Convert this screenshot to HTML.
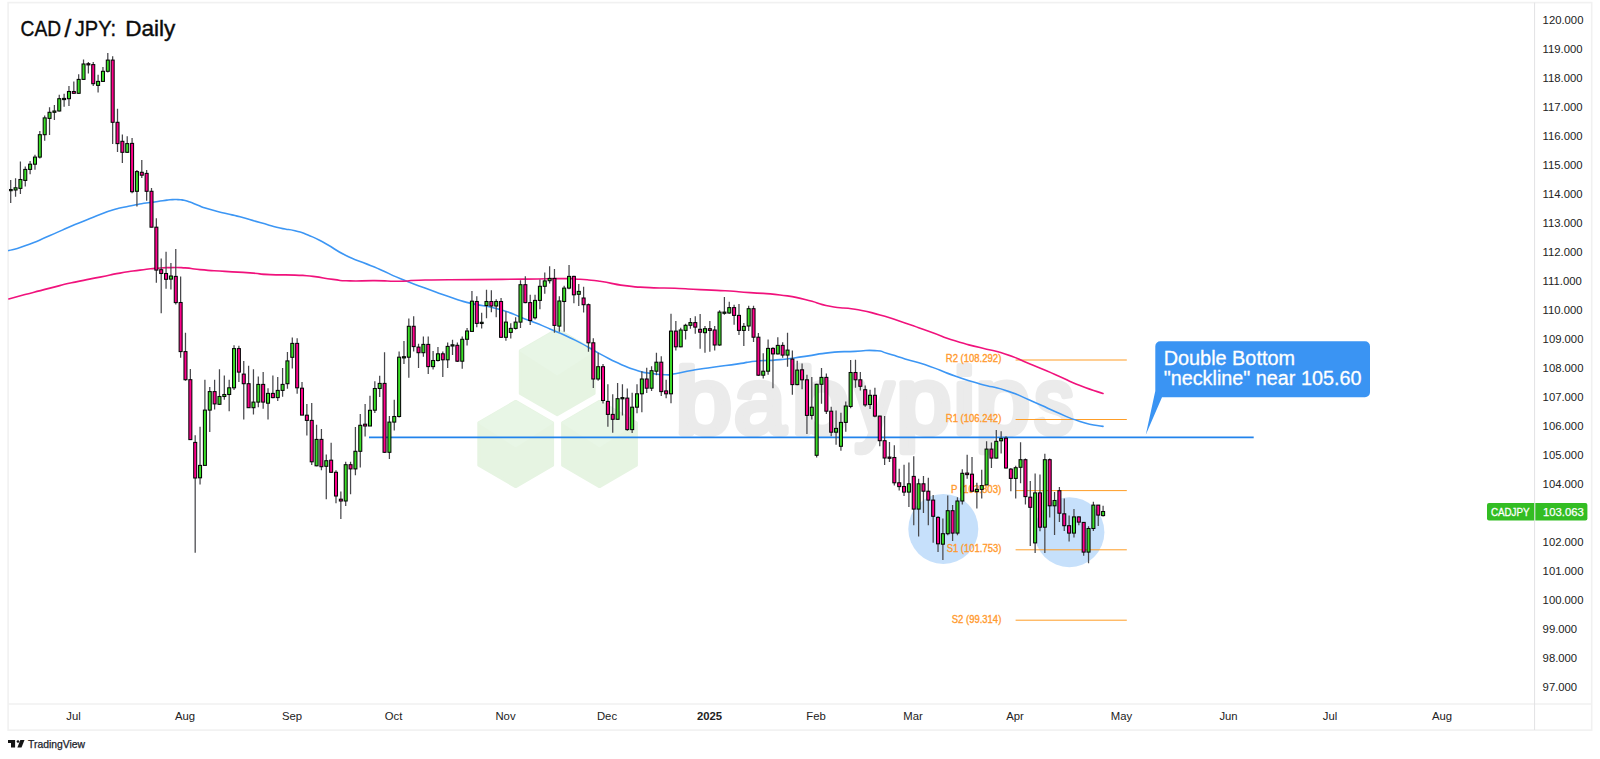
<!DOCTYPE html>
<html><head><meta charset="utf-8"><title>CAD/JPY: Daily</title>
<style>
html,body{margin:0;padding:0;background:#fff;}
body{width:1600px;height:759px;overflow:hidden;}
svg{display:block;font-family:"Liberation Sans","DejaVu Sans",sans-serif;}
</style></head><body>
<svg width="1600" height="759" viewBox="0 0 1600 759">
<rect width="1600" height="759" fill="#fff"/>

<g fill="none" stroke="#f1f1f1" stroke-width="1.6"><rect x="8.1" y="2.6" width="1583.6" height="727.5"/><line x1="8.1" y1="704" x2="1591.7" y2="704"/></g><line x1="1534.6" y1="2.6" x2="1534.6" y2="730" stroke="#e2e2e4" stroke-width="1"/>
<g id="watermark" aria-label="babypips">
<polygon points="557.2,329.6 594.1,350.9 594.1,393.5 557.2,414.8 520.3,393.5 520.3,350.9" fill="#e6f4e2" stroke="#e6f4e2" stroke-width="3" stroke-linejoin="round"/><polygon points="557.2,329.6 594.1,350.9 557.2,374.7 520.3,350.9" fill="#e8f6e6" stroke="#e8f6e6" stroke-width="1.5" stroke-linejoin="round"/>
<polygon points="515.7,401.4 552.6,422.7 552.6,465.3 515.7,486.6 478.8,465.3 478.8,422.7" fill="#e6f4e2" stroke="#e6f4e2" stroke-width="3" stroke-linejoin="round"/><polygon points="515.7,401.4 552.6,422.7 515.7,446.5 478.8,422.7" fill="#e8f6e6" stroke="#e8f6e6" stroke-width="1.5" stroke-linejoin="round"/>
<polygon points="599.5,401.4 636.4,422.7 636.4,465.3 599.5,486.6 562.6,465.3 562.6,422.7" fill="#e6f4e2" stroke="#e6f4e2" stroke-width="3" stroke-linejoin="round"/><polygon points="599.5,401.4 636.4,422.7 599.5,446.5 562.6,422.7" fill="#e8f6e6" stroke="#e8f6e6" stroke-width="1.5" stroke-linejoin="round"/>
<text transform="translate(0 433.1) scale(1 0.88)" font-size="105" fill="#ebebeb" stroke="#ebebeb" stroke-width="7.5" stroke-linejoin="round" stroke-linecap="round"><tspan x="675.83" y="0" textLength="55.85" lengthAdjust="spacingAndGlyphs">b</tspan><tspan x="734.22" y="0" textLength="51.12" lengthAdjust="spacingAndGlyphs">a</tspan><tspan x="791.97" y="0" textLength="57.02" lengthAdjust="spacingAndGlyphs">b</tspan><tspan x="854.75" y="0" textLength="38.68" lengthAdjust="spacingAndGlyphs">y</tspan><tspan x="896.50" y="0" textLength="54.58" lengthAdjust="spacingAndGlyphs">p</tspan><tspan x="953.41" y="0" textLength="21.68" lengthAdjust="spacingAndGlyphs">i</tspan><tspan x="975.60" y="0" textLength="54.47" lengthAdjust="spacingAndGlyphs">p</tspan><tspan x="1034.45" y="0" textLength="39.13" lengthAdjust="spacingAndGlyphs">s</tspan></text>
</g>
<circle cx="943.3" cy="528.9" r="35" fill="#c6e0fb"/><circle cx="1069.4" cy="532.2" r="35" fill="#c6e0fb"/>
<line x1="1015.6" y1="360.0" x2="1126.8" y2="360.0" stroke="#ff9d26" stroke-width="1"/>
<text x="1001.3" y="362.3" font-size="10.2" fill="#ff9a2e" stroke="#ff9a2e" stroke-width="0.35" text-anchor="end" textLength="55.5" lengthAdjust="spacingAndGlyphs">R2 (108.292)</text>
<line x1="1015.6" y1="419.5" x2="1126.8" y2="419.5" stroke="#ff9d26" stroke-width="1"/>
<text x="1001.3" y="421.8" font-size="10.2" fill="#ff9a2e" stroke="#ff9a2e" stroke-width="0.35" text-anchor="end" textLength="55.5" lengthAdjust="spacingAndGlyphs">R1 (106.242)</text>
<line x1="1015.6" y1="490.6" x2="1126.8" y2="490.6" stroke="#ff9d26" stroke-width="1"/>
<text x="1001.3" y="492.90000000000003" font-size="10.2" fill="#ff9a2e" stroke="#ff9a2e" stroke-width="0.35" text-anchor="end" textLength="50.2" lengthAdjust="spacingAndGlyphs">P (103.803)</text>
<line x1="1015.6" y1="549.8" x2="1126.8" y2="549.8" stroke="#ff9d26" stroke-width="1"/>
<text x="1001.3" y="552.1" font-size="10.2" fill="#ff9a2e" stroke="#ff9a2e" stroke-width="0.35" text-anchor="end" textLength="54.6" lengthAdjust="spacingAndGlyphs">S1 (101.753)</text>
<line x1="1015.6" y1="620.1999999999999" x2="1126.8" y2="620.1999999999999" stroke="#ff9d26" stroke-width="1"/>
<text x="1001.3" y="622.5" font-size="10.2" fill="#ff9a2e" stroke="#ff9a2e" stroke-width="0.35" text-anchor="end" textLength="49.5" lengthAdjust="spacingAndGlyphs">S2 (99.314)</text>
<line x1="369" y1="437.3" x2="1253.7" y2="437.3" stroke="#2283ec" stroke-width="1.65"/>
<path d="M8.8 250.6C14.2 249.0 11.3 250.8 25.0 245.8C38.7 240.8 33.3 242.7 50.0 235.6C66.7 228.5 58.3 231.6 75.0 224.6C91.7 217.6 87.5 219.4 100.0 214.5C112.5 209.6 104.3 212.5 112.6 210.0C120.9 207.5 116.6 208.8 125.0 207.0C133.4 205.2 129.4 206.0 137.7 204.5C146.0 203.0 141.7 203.7 150.0 202.5C158.3 201.3 156.0 201.7 162.7 200.8C169.4 199.9 164.9 200.2 170.0 199.8C175.1 199.4 173.3 199.4 178.0 199.6C182.7 199.8 180.0 199.5 184.0 200.3C188.0 201.1 185.3 200.3 190.0 202.0C194.7 203.7 192.1 203.0 198.0 205.3C203.9 207.6 198.8 206.1 207.8 208.8C216.8 211.5 214.3 210.6 225.0 213.3C235.7 216.0 228.3 213.7 240.0 216.8C251.7 219.9 246.7 218.9 260.0 222.6C273.3 226.3 268.3 225.3 280.0 228.0C291.7 230.7 285.7 228.5 295.0 230.8C304.3 233.1 298.0 230.8 308.0 235.0C318.0 239.2 312.7 236.6 325.0 243.3C337.3 250.0 332.3 248.6 345.0 255.0C357.7 261.4 351.3 257.8 363.0 262.6C374.7 267.4 367.7 264.1 380.0 269.4C392.3 274.7 385.0 272.3 400.0 278.5C415.0 284.7 408.3 281.8 425.0 288.0C441.7 294.2 435.0 292.1 450.0 297.1C465.0 302.1 453.3 298.9 470.0 303.1C486.7 307.3 481.7 304.3 500.0 309.6C518.3 314.9 508.3 312.5 525.0 318.9C541.7 325.3 533.3 321.8 550.0 328.9C566.7 336.0 558.3 331.8 575.0 340.1C591.7 348.4 585.0 346.0 600.0 353.9C615.0 361.8 607.4 358.3 620.0 363.9C632.6 369.5 627.8 367.6 637.8 370.7C647.8 373.8 640.9 371.9 650.0 373.2C659.1 374.5 656.7 374.5 665.0 374.7C673.3 374.9 665.7 375.2 675.0 373.7C684.3 372.2 680.3 372.4 693.0 370.2C705.7 368.0 698.0 369.3 713.0 367.2C728.0 365.1 723.9 365.9 738.0 363.9C752.1 361.9 741.4 362.6 755.4 361.2C769.4 359.8 763.5 361.2 780.0 359.6C796.5 358.0 788.3 358.7 805.0 356.4C821.7 354.1 813.3 354.3 830.0 352.6C846.7 350.9 840.0 352.1 855.0 351.4C870.0 350.7 864.1 349.9 875.0 350.6C885.9 351.3 877.6 350.6 887.6 353.4C897.6 356.2 890.9 354.6 905.0 358.9C919.1 363.2 913.3 360.7 930.0 366.4C946.7 372.1 938.3 370.1 955.0 375.9C971.7 381.7 963.3 379.1 980.0 383.9C996.7 388.7 988.3 384.8 1005.0 390.2C1021.7 395.6 1013.3 393.1 1030.0 400.2C1046.7 407.3 1038.3 404.3 1055.0 411.4C1071.7 418.5 1064.0 416.4 1080.0 421.4C1096.0 426.4 1095.3 424.7 1103.0 426.4" fill="none" stroke="#3c96f4" stroke-width="1.6" stroke-linejoin="round" stroke-linecap="round"/>
<path d="M8.8 298.9C14.2 297.5 11.3 298.2 25.0 294.6C38.7 291.0 33.3 292.3 50.0 288.1C66.7 283.9 58.3 285.8 75.0 282.1C91.7 278.4 85.0 280.1 100.0 277.1C115.0 274.1 106.7 275.4 120.0 273.1C133.3 270.8 128.3 271.7 140.0 270.1C151.7 268.5 145.0 269.2 155.0 268.4C165.0 267.6 160.0 267.8 170.0 267.6C180.0 267.4 175.0 267.2 185.0 267.9C195.0 268.6 186.7 268.4 200.0 269.6C213.3 270.8 208.3 270.3 225.0 271.4C241.7 272.5 235.0 271.8 250.0 272.9C265.0 274.0 255.0 273.9 270.0 274.6C285.0 275.3 280.7 274.5 295.0 275.1C309.3 275.7 300.3 275.0 313.0 276.4C325.7 277.8 320.7 277.9 333.0 279.4C345.3 280.9 336.0 280.5 350.0 280.9C364.0 281.3 358.3 280.5 375.0 280.6C391.7 280.7 383.3 281.4 400.0 281.2C416.7 281.0 400.0 280.5 425.0 280.0C450.0 279.5 441.7 279.9 475.0 279.6C508.3 279.3 495.8 279.4 525.0 279.1C554.2 278.8 544.4 278.5 562.7 278.6C581.0 278.7 567.6 278.4 580.0 279.3C592.4 280.2 585.0 279.2 600.0 281.3C615.0 283.4 608.3 283.5 625.0 285.6C641.7 287.7 633.3 286.7 650.0 287.6C666.7 288.5 658.3 287.6 675.0 288.3C691.7 289.0 683.3 288.8 700.0 289.6C716.7 290.4 708.3 289.8 725.0 290.8C741.7 291.8 731.7 291.2 750.0 292.6C768.3 294.0 761.7 292.7 780.0 295.0C798.3 297.3 788.3 295.7 805.0 299.5C821.7 303.3 813.3 303.0 830.0 306.3C846.7 309.6 838.3 306.4 855.0 309.3C871.7 312.2 863.3 310.4 880.0 315.0C896.7 319.6 888.3 317.4 905.0 323.0C921.7 328.6 913.3 325.9 930.0 331.8C946.7 337.7 938.3 335.5 955.0 340.8C971.7 346.1 963.3 343.2 980.0 347.6C996.7 352.0 988.3 348.5 1005.0 353.9C1021.7 359.3 1013.3 357.1 1030.0 363.9C1046.7 370.7 1038.3 367.2 1055.0 374.4C1071.7 381.6 1064.0 379.3 1080.0 385.6C1096.0 391.9 1095.3 390.8 1103.0 393.4" fill="none" stroke="#f0127c" stroke-width="1.6" stroke-linejoin="round" stroke-linecap="round"/>
<clipPath id="cp"><rect x="8.9" y="3" width="1525" height="700"/></clipPath><g clip-path="url(#cp)">
<path d="M10.70 179.9V203.0M15.56 178.3V196.7M20.41 161.6V194.0M25.27 166.5V186.6M30.12 160.9V174.3M34.98 154.8V169.8M39.83 131.1V158.6M44.69 115.4V140.7M49.54 107.2V135.1M54.40 104.9V120.1M59.25 94.8V111.6M64.11 93.7V106.7M68.96 85.9V106.0M73.82 81.4V93.7M78.67 74.3V93.7M83.53 59.5V79.8M88.38 61.9V73.6M93.24 61.9V85.9M98.09 74.7V92.6M102.95 66.9V82.1M107.80 53.0V72.5M112.66 56.3V144.0M117.51 108.7V151.9M122.37 134.6V163.1M127.22 136.2V153.0M132.08 138.0V193.3M136.93 170.1V206.6M141.79 160.0V177.9M146.64 170.1V200.7M151.50 188.0V227.2M156.35 218.2V282.7M161.21 258.5V313.3M166.06 251.8V288.7M170.92 263.0V289.4M175.77 248.9V304.4M180.63 276.5V357.7M185.48 332.7V380.8M190.34 369.1V439.6M195.19 435.3V552.8M200.05 426.7V484.5M204.90 379.7V465.4M209.76 387.1V431.9M214.61 379.7V409.5M219.47 369.2V405.0M224.32 375.4V399.8M229.18 379.7V411.3M234.04 345.2V390.0M238.89 345.7V381.9M243.75 360.9V419.5M248.60 365.8V407.7M253.46 369.2V414.6M258.31 376.6V407.2M263.17 372.1V408.8M268.02 388.2V419.5M272.88 375.4V398.3M277.73 377.0V401.0M282.59 368.1V396.7M287.44 351.9V388.7M292.30 337.4V368.5M297.15 338.3V393.8M302.01 381.9V415.1M306.86 404.0V435.4M311.72 403.1V465.1M316.57 424.8V466.3M321.43 428.9V470.3M326.28 454.6V499.2M331.14 442.8V473.0M335.99 470.3V503.2M340.85 491.6V518.9M345.70 461.8V505.9M350.56 461.8V494.2M355.41 427.1V475.2M360.27 414.1V467.4M365.12 404.0V436.5M369.98 395.7V426.0M374.83 381.3V413.1M379.69 375.7V397.0M384.54 352.2V453.0M389.40 416.0V459.0M394.25 399.7V430.6M399.11 351.6V417.6M403.96 341.0V363.9M408.82 318.4V377.8M413.67 316.2V351.6M418.53 343.7V367.9M423.38 336.6V356.7M428.24 336.6V373.9M433.09 350.9V369.5M437.95 347.1V361.6M442.80 351.6V376.9M447.66 342.6V367.9M452.52 339.7V354.9M457.37 342.6V362.1M462.23 336.6V368.8M467.08 328.1V345.5M471.94 291.1V331.4M476.79 296.3V327.2M481.65 312.7V328.4M486.50 289.8V318.3M491.36 290.3V312.2M496.21 299.3V317.2M501.07 298.1V338.0M505.92 311.6V340.7M510.78 323.2V338.4M515.63 317.2V329.5M520.49 280.2V327.9M525.34 276.2V303.3M530.20 294.8V325.0M535.05 294.8V319.4M539.91 279.6V309.3M544.76 272.4V293.7M549.62 266.3V283.6M554.47 269.0V332.8M559.33 296.3V331.7M564.18 285.8V331.7M569.04 265.0V289.2M573.89 275.7V303.3M578.75 284.0V306.0M583.60 286.8V312.5M588.46 303.6V351.7M593.31 338.3V388.0M598.17 352.8V380.8M603.02 364.0V403.6M607.88 384.2V426.7M612.73 394.2V432.7M617.59 383.1V419.3M622.44 384.2V415.5M627.30 388.6V430.7M632.15 392.7V433.0M637.01 384.2V413.3M641.86 371.2V412.2M646.72 367.8V393.1M651.57 366.3V390.9M656.43 352.8V375.2M661.28 356.2V396.0M666.14 379.7V398.3M671.00 313.7V403.2M675.85 321.0V350.6M680.71 327.8V347.2M685.56 323.7V339.4M690.42 318.1V328.7M695.27 316.3V333.8M700.13 314.1V348.8M704.98 326.0V352.8M709.84 321.0V351.7M714.69 326.0V350.6M719.55 310.3V345.7M724.40 296.9V314.8M729.26 301.8V313.7M734.11 304.7V324.8M738.97 304.0V334.9M743.82 323.1V346.1M748.68 305.8V330.9M753.53 305.8V342.1M758.39 333.1V375.7M763.24 353.3V378.6M768.10 339.4V374.8M772.95 347.2V388.2M777.81 337.2V354.6M782.66 342.3V357.8M787.52 332.7V366.7M792.37 350.6V394.7M797.23 360.7V385.3M802.08 363.5V389.3M806.94 374.7V434.0M811.79 376.9V419.5M816.65 383.7V457.5M821.50 368.0V403.8M826.36 373.6V413.9M831.21 406.7V436.3M836.07 410.5V444.8M840.92 412.8V450.8M845.78 401.6V431.8M850.63 360.1V408.3M855.49 359.7V387.7M860.34 372.0V390.4M865.20 385.4V406.7M870.05 389.7V409.0M874.91 387.7V417.2M879.76 415.7V446.3M884.62 416.1V464.9M889.48 441.9V462.0M894.33 445.2V485.5M899.19 468.7V490.4M904.04 464.8V496.1M908.90 462.5V506.9M913.75 456.3V525.2M918.61 478.7V536.4M923.46 476.0V512.9M928.32 477.8V525.2M933.17 495.0V542.7M938.03 516.3V552.1M942.88 518.5V559.9M947.74 495.4V535.3M952.59 505.1V540.9M957.45 497.2V535.3M962.30 469.3V504.4M967.16 454.7V478.7M972.01 456.9V491.6M976.87 482.7V508.4M981.72 469.7V498.4M986.58 441.3V484.9M991.43 442.4V468.1M996.29 430.1V458.5M1001.14 431.2V453.6M1006.00 436.3V468.6M1010.85 468.0V491.3M1015.71 465.8V498.6M1020.56 442.2V483.3M1025.42 458.4V504.5M1030.27 480.9V546.0M1035.13 473.6V553.0M1039.98 474.5V531.3M1044.84 453.8V553.0M1049.69 458.4V517.4M1054.55 492.0V535.0M1059.40 487.0V522.1M1064.26 498.5V530.9M1069.11 515.6V541.4M1073.97 509.1V537.4M1078.82 516.5V525.2M1083.68 522.4V555.8M1088.53 526.3V563.2M1093.39 501.8V530.9M1098.24 505.1V526.1M1103.10 505.8V516.5" stroke="#48484c" stroke-width="1.25" fill="none"/>
<g stroke="#050505" stroke-width="1.05"><rect x="9.20" y="189.5" width="3" height="1.2" fill="#3adf27"/><rect x="14.06" y="187.8" width="3" height="2.2" fill="#3adf27"/><rect x="18.91" y="179.5" width="3" height="8.9" fill="#3adf27"/><rect x="23.77" y="169.4" width="3" height="11.0" fill="#3adf27"/><rect x="28.62" y="164.2" width="3" height="5.2" fill="#3adf27"/><rect x="33.48" y="157.1" width="3" height="7.1" fill="#3adf27"/><rect x="38.33" y="134.7" width="3" height="22.4" fill="#3adf27"/><rect x="43.19" y="117.9" width="3" height="16.8" fill="#3adf27"/><rect x="48.04" y="112.3" width="3" height="6.1" fill="#3adf27"/><rect x="52.90" y="111.0" width="3" height="1.3" fill="#3adf27"/><rect x="57.75" y="98.7" width="3" height="12.3" fill="#3adf27"/><rect x="62.61" y="98.4" width="3" height="1.2" fill="#3adf27"/><rect x="67.46" y="91.5" width="3" height="7.2" fill="#3adf27"/><rect x="72.32" y="91.5" width="3" height="1.8" fill="#ff008c"/><rect x="77.17" y="79.4" width="3" height="13.9" fill="#3adf27"/><rect x="82.03" y="64.0" width="3" height="15.4" fill="#3adf27"/><rect x="86.88" y="63.7" width="3" height="1.2" fill="#ff008c"/><rect x="91.74" y="64.6" width="3" height="19.1" fill="#ff008c"/><rect x="96.59" y="81.4" width="3" height="4.0" fill="#3adf27"/><rect x="101.45" y="71.3" width="3" height="10.1" fill="#3adf27"/><rect x="106.30" y="60.1" width="3" height="11.2" fill="#3adf27"/><rect x="111.16" y="60.1" width="3" height="62.2" fill="#ff008c"/><rect x="116.01" y="122.3" width="3" height="21.3" fill="#ff008c"/><rect x="120.87" y="141.3" width="3" height="11.0" fill="#ff008c"/><rect x="125.72" y="143.6" width="3" height="8.7" fill="#3adf27"/><rect x="130.58" y="143.4" width="3" height="48.3" fill="#ff008c"/><rect x="135.43" y="171.6" width="3" height="19.7" fill="#3adf27"/><rect x="140.29" y="172.3" width="3" height="2.9" fill="#ff008c"/><rect x="145.14" y="173.4" width="3" height="17.9" fill="#ff008c"/><rect x="150.00" y="191.3" width="3" height="35.9" fill="#ff008c"/><rect x="154.85" y="227.2" width="3" height="42.9" fill="#ff008c"/><rect x="159.71" y="269.7" width="3" height="3.8" fill="#ff008c"/><rect x="164.56" y="273.5" width="3" height="5.8" fill="#ff008c"/><rect x="169.42" y="276.0" width="3" height="3.1" fill="#3adf27"/><rect x="174.27" y="276.4" width="3" height="26.2" fill="#ff008c"/><rect x="179.13" y="302.5" width="3" height="49.1" fill="#ff008c"/><rect x="183.98" y="351.6" width="3" height="28.1" fill="#ff008c"/><rect x="188.84" y="379.7" width="3" height="59.9" fill="#ff008c"/><rect x="193.69" y="442.4" width="3" height="35.6" fill="#ff008c"/><rect x="198.55" y="465.4" width="3" height="12.4" fill="#3adf27"/><rect x="203.40" y="410.1" width="3" height="55.3" fill="#3adf27"/><rect x="208.26" y="391.6" width="3" height="18.5" fill="#3adf27"/><rect x="213.11" y="391.6" width="3" height="12.3" fill="#ff008c"/><rect x="217.97" y="396.5" width="3" height="7.8" fill="#3adf27"/><rect x="222.82" y="394.5" width="3" height="2.0" fill="#3adf27"/><rect x="227.68" y="387.8" width="3" height="6.7" fill="#3adf27"/><rect x="232.54" y="348.6" width="3" height="39.2" fill="#3adf27"/><rect x="237.39" y="348.6" width="3" height="23.5" fill="#ff008c"/><rect x="242.25" y="374.1" width="3" height="9.6" fill="#ff008c"/><rect x="247.10" y="383.7" width="3" height="24.0" fill="#ff008c"/><rect x="251.96" y="402.1" width="3" height="5.6" fill="#3adf27"/><rect x="256.81" y="384.4" width="3" height="17.7" fill="#3adf27"/><rect x="261.67" y="384.4" width="3" height="17.7" fill="#ff008c"/><rect x="266.52" y="393.4" width="3" height="9.8" fill="#3adf27"/><rect x="271.38" y="393.4" width="3" height="4.2" fill="#ff008c"/><rect x="276.23" y="390.4" width="3" height="7.2" fill="#3adf27"/><rect x="281.09" y="384.4" width="3" height="6.0" fill="#3adf27"/><rect x="285.94" y="360.9" width="3" height="22.8" fill="#3adf27"/><rect x="290.80" y="343.4" width="3" height="13.9" fill="#3adf27"/><rect x="295.65" y="343.4" width="3" height="44.4" fill="#ff008c"/><rect x="300.51" y="388.2" width="3" height="26.9" fill="#ff008c"/><rect x="305.36" y="415.2" width="3" height="5.2" fill="#ff008c"/><rect x="310.22" y="420.4" width="3" height="41.4" fill="#ff008c"/><rect x="315.07" y="439.4" width="3" height="26.4" fill="#3adf27"/><rect x="319.93" y="439.4" width="3" height="27.3" fill="#ff008c"/><rect x="324.78" y="460.7" width="3" height="5.6" fill="#3adf27"/><rect x="329.64" y="460.2" width="3" height="12.1" fill="#ff008c"/><rect x="334.49" y="472.3" width="3" height="23.7" fill="#ff008c"/><rect x="339.35" y="499.2" width="3" height="1.8" fill="#ff008c"/><rect x="344.20" y="464.7" width="3" height="36.3" fill="#3adf27"/><rect x="349.06" y="464.7" width="3" height="4.2" fill="#ff008c"/><rect x="353.91" y="451.3" width="3" height="17.6" fill="#3adf27"/><rect x="358.77" y="425.3" width="3" height="26.0" fill="#3adf27"/><rect x="363.62" y="424.2" width="3" height="1.8" fill="#ff008c"/><rect x="368.48" y="410.3" width="3" height="15.7" fill="#3adf27"/><rect x="373.33" y="388.5" width="3" height="21.7" fill="#3adf27"/><rect x="378.19" y="383.4" width="3" height="5.1" fill="#3adf27"/><rect x="383.04" y="383.4" width="3" height="68.9" fill="#ff008c"/><rect x="387.90" y="422.1" width="3" height="30.2" fill="#3adf27"/><rect x="392.75" y="416.5" width="3" height="5.6" fill="#3adf27"/><rect x="397.61" y="357.2" width="3" height="59.3" fill="#3adf27"/><rect x="402.46" y="356.7" width="3" height="1.2" fill="#3adf27"/><rect x="407.32" y="326.3" width="3" height="30.9" fill="#3adf27"/><rect x="412.17" y="326.3" width="3" height="20.3" fill="#ff008c"/><rect x="417.03" y="347.1" width="3" height="5.6" fill="#ff008c"/><rect x="421.88" y="344.4" width="3" height="8.3" fill="#3adf27"/><rect x="426.74" y="344.4" width="3" height="22.2" fill="#ff008c"/><rect x="431.59" y="360.5" width="3" height="6.1" fill="#3adf27"/><rect x="436.45" y="353.8" width="3" height="6.7" fill="#3adf27"/><rect x="441.30" y="353.8" width="3" height="6.0" fill="#ff008c"/><rect x="446.16" y="346.4" width="3" height="13.4" fill="#3adf27"/><rect x="451.02" y="344.8" width="3" height="1.2" fill="#3adf27"/><rect x="455.87" y="345.3" width="3" height="15.9" fill="#ff008c"/><rect x="460.73" y="339.3" width="3" height="21.9" fill="#3adf27"/><rect x="465.58" y="331.0" width="3" height="8.3" fill="#3adf27"/><rect x="470.44" y="301.2" width="3" height="30.2" fill="#3adf27"/><rect x="475.29" y="301.5" width="3" height="21.9" fill="#ff008c"/><rect x="480.15" y="322.3" width="3" height="1.2" fill="#3adf27"/><rect x="485.00" y="301.5" width="3" height="4.0" fill="#3adf27"/><rect x="489.86" y="301.5" width="3" height="4.5" fill="#ff008c"/><rect x="494.71" y="301.5" width="3" height="4.5" fill="#3adf27"/><rect x="499.57" y="301.5" width="3" height="35.8" fill="#ff008c"/><rect x="504.42" y="322.1" width="3" height="15.2" fill="#3adf27"/><rect x="509.28" y="328.4" width="3" height="4.0" fill="#3adf27"/><rect x="514.13" y="322.1" width="3" height="6.3" fill="#3adf27"/><rect x="518.99" y="284.7" width="3" height="37.4" fill="#3adf27"/><rect x="523.84" y="284.7" width="3" height="17.9" fill="#ff008c"/><rect x="528.70" y="302.6" width="3" height="17.9" fill="#ff008c"/><rect x="533.55" y="300.4" width="3" height="17.4" fill="#3adf27"/><rect x="538.41" y="286.3" width="3" height="14.1" fill="#3adf27"/><rect x="543.26" y="280.9" width="3" height="5.4" fill="#3adf27"/><rect x="548.12" y="278.4" width="3" height="2.3" fill="#3adf27"/><rect x="552.97" y="278.4" width="3" height="47.0" fill="#ff008c"/><rect x="557.83" y="301.0" width="3" height="25.1" fill="#3adf27"/><rect x="562.68" y="288.1" width="3" height="13.4" fill="#3adf27"/><rect x="567.54" y="276.4" width="3" height="11.7" fill="#3adf27"/><rect x="572.39" y="276.4" width="3" height="18.4" fill="#ff008c"/><rect x="577.25" y="291.4" width="3" height="2.9" fill="#3adf27"/><rect x="582.10" y="298.0" width="3" height="6.7" fill="#ff008c"/><rect x="586.96" y="304.7" width="3" height="38.1" fill="#ff008c"/><rect x="591.81" y="342.8" width="3" height="36.2" fill="#ff008c"/><rect x="596.67" y="366.7" width="3" height="12.3" fill="#3adf27"/><rect x="601.52" y="366.7" width="3" height="33.8" fill="#ff008c"/><rect x="606.38" y="401.4" width="3" height="13.0" fill="#ff008c"/><rect x="611.23" y="414.4" width="3" height="4.9" fill="#ff008c"/><rect x="616.09" y="398.7" width="3" height="20.6" fill="#3adf27"/><rect x="620.94" y="397.6" width="3" height="1.2" fill="#3adf27"/><rect x="625.80" y="398.1" width="3" height="31.5" fill="#ff008c"/><rect x="630.65" y="407.2" width="3" height="22.4" fill="#3adf27"/><rect x="635.51" y="393.8" width="3" height="13.4" fill="#3adf27"/><rect x="640.36" y="379.0" width="3" height="14.8" fill="#3adf27"/><rect x="645.22" y="379.0" width="3" height="9.2" fill="#ff008c"/><rect x="650.07" y="370.7" width="3" height="17.5" fill="#3adf27"/><rect x="654.93" y="362.2" width="3" height="9.0" fill="#3adf27"/><rect x="659.78" y="362.2" width="3" height="29.4" fill="#ff008c"/><rect x="664.64" y="390.9" width="3" height="2.9" fill="#ff008c"/><rect x="669.50" y="331.1" width="3" height="62.7" fill="#3adf27"/><rect x="674.35" y="331.1" width="3" height="15.7" fill="#ff008c"/><rect x="679.21" y="330.0" width="3" height="16.8" fill="#3adf27"/><rect x="684.06" y="325.3" width="3" height="5.1" fill="#3adf27"/><rect x="688.92" y="322.6" width="3" height="2.7" fill="#3adf27"/><rect x="693.77" y="322.6" width="3" height="4.5" fill="#ff008c"/><rect x="698.63" y="329.3" width="3" height="2.9" fill="#ff008c"/><rect x="703.48" y="328.7" width="3" height="4.0" fill="#3adf27"/><rect x="708.34" y="328.7" width="3" height="1.7" fill="#ff008c"/><rect x="713.19" y="330.0" width="3" height="15.0" fill="#ff008c"/><rect x="718.05" y="312.1" width="3" height="32.9" fill="#3adf27"/><rect x="722.90" y="312.1" width="3" height="1.2" fill="#3adf27"/><rect x="727.76" y="307.6" width="3" height="5.4" fill="#3adf27"/><rect x="732.61" y="307.6" width="3" height="7.8" fill="#ff008c"/><rect x="737.47" y="315.4" width="3" height="15.0" fill="#ff008c"/><rect x="742.32" y="326.4" width="3" height="4.0" fill="#3adf27"/><rect x="747.18" y="308.7" width="3" height="17.3" fill="#3adf27"/><rect x="752.03" y="308.7" width="3" height="28.5" fill="#ff008c"/><rect x="756.89" y="337.2" width="3" height="38.0" fill="#ff008c"/><rect x="761.74" y="371.2" width="3" height="4.0" fill="#3adf27"/><rect x="766.60" y="348.4" width="3" height="22.8" fill="#3adf27"/><rect x="771.45" y="348.4" width="3" height="5.5" fill="#ff008c"/><rect x="776.31" y="345.4" width="3" height="8.5" fill="#3adf27"/><rect x="781.16" y="345.4" width="3" height="9.7" fill="#ff008c"/><rect x="786.02" y="350.1" width="3" height="5.0" fill="#3adf27"/><rect x="790.87" y="359.1" width="3" height="25.5" fill="#ff008c"/><rect x="795.73" y="370.1" width="3" height="14.5" fill="#3adf27"/><rect x="800.58" y="369.8" width="3" height="10.0" fill="#ff008c"/><rect x="805.44" y="379.8" width="3" height="35.6" fill="#ff008c"/><rect x="810.29" y="407.2" width="3" height="8.2" fill="#3adf27"/><rect x="815.15" y="384.3" width="3" height="71.0" fill="#3adf27"/><rect x="820.00" y="377.4" width="3" height="6.9" fill="#3adf27"/><rect x="824.86" y="377.4" width="3" height="33.8" fill="#ff008c"/><rect x="829.71" y="411.2" width="3" height="21.0" fill="#ff008c"/><rect x="834.57" y="428.4" width="3" height="3.8" fill="#3adf27"/><rect x="839.42" y="422.4" width="3" height="23.9" fill="#3adf27"/><rect x="844.28" y="406.0" width="3" height="16.4" fill="#3adf27"/><rect x="849.13" y="372.5" width="3" height="34.0" fill="#3adf27"/><rect x="853.99" y="372.5" width="3" height="7.3" fill="#ff008c"/><rect x="858.84" y="379.8" width="3" height="6.5" fill="#ff008c"/><rect x="863.70" y="389.7" width="3" height="15.2" fill="#ff008c"/><rect x="868.55" y="395.3" width="3" height="9.2" fill="#3adf27"/><rect x="873.41" y="395.3" width="3" height="20.8" fill="#ff008c"/><rect x="878.26" y="416.1" width="3" height="24.6" fill="#ff008c"/><rect x="883.12" y="440.7" width="3" height="17.3" fill="#ff008c"/><rect x="887.98" y="457.1" width="3" height="1.2" fill="#ff008c"/><rect x="892.83" y="457.5" width="3" height="25.3" fill="#ff008c"/><rect x="897.69" y="482.8" width="3" height="3.8" fill="#ff008c"/><rect x="902.54" y="486.5" width="3" height="5.6" fill="#ff008c"/><rect x="907.40" y="483.8" width="3" height="8.3" fill="#3adf27"/><rect x="912.25" y="476.4" width="3" height="32.7" fill="#ff008c"/><rect x="917.11" y="483.8" width="3" height="25.3" fill="#3adf27"/><rect x="921.96" y="483.8" width="3" height="7.4" fill="#ff008c"/><rect x="926.82" y="491.2" width="3" height="8.9" fill="#ff008c"/><rect x="931.67" y="500.1" width="3" height="16.2" fill="#ff008c"/><rect x="936.53" y="517.4" width="3" height="26.4" fill="#ff008c"/><rect x="941.38" y="533.7" width="3" height="10.5" fill="#3adf27"/><rect x="946.24" y="510.7" width="3" height="23.0" fill="#3adf27"/><rect x="951.09" y="510.7" width="3" height="22.4" fill="#ff008c"/><rect x="955.95" y="501.0" width="3" height="32.1" fill="#3adf27"/><rect x="960.80" y="473.3" width="3" height="27.7" fill="#3adf27"/><rect x="965.66" y="473.1" width="3" height="1.5" fill="#ff008c"/><rect x="970.51" y="474.2" width="3" height="17.0" fill="#ff008c"/><rect x="975.37" y="489.4" width="3" height="2.2" fill="#3adf27"/><rect x="980.22" y="485.6" width="3" height="3.8" fill="#3adf27"/><rect x="985.08" y="449.1" width="3" height="35.8" fill="#3adf27"/><rect x="989.93" y="449.1" width="3" height="9.0" fill="#ff008c"/><rect x="994.79" y="441.3" width="3" height="16.8" fill="#3adf27"/><rect x="999.64" y="438.6" width="3" height="2.2" fill="#3adf27"/><rect x="1004.50" y="438.2" width="3" height="29.8" fill="#ff008c"/><rect x="1009.35" y="469.1" width="3" height="9.3" fill="#ff008c"/><rect x="1014.21" y="467.7" width="3" height="10.7" fill="#3adf27"/><rect x="1019.06" y="459.7" width="3" height="7.6" fill="#3adf27"/><rect x="1023.92" y="459.7" width="3" height="36.9" fill="#ff008c"/><rect x="1028.77" y="497.2" width="3" height="10.1" fill="#ff008c"/><rect x="1033.63" y="492.9" width="3" height="50.0" fill="#3adf27"/><rect x="1038.48" y="492.9" width="3" height="34.3" fill="#ff008c"/><rect x="1043.34" y="459.7" width="3" height="67.5" fill="#3adf27"/><rect x="1048.19" y="459.7" width="3" height="46.1" fill="#ff008c"/><rect x="1053.05" y="500.5" width="3" height="5.3" fill="#3adf27"/><rect x="1057.90" y="490.7" width="3" height="22.5" fill="#ff008c"/><rect x="1062.76" y="513.8" width="3" height="11.9" fill="#ff008c"/><rect x="1067.61" y="525.7" width="3" height="7.4" fill="#ff008c"/><rect x="1072.47" y="516.9" width="3" height="16.2" fill="#3adf27"/><rect x="1077.32" y="516.9" width="3" height="5.2" fill="#ff008c"/><rect x="1082.18" y="522.4" width="3" height="29.7" fill="#ff008c"/><rect x="1087.03" y="528.5" width="3" height="23.6" fill="#3adf27"/><rect x="1091.89" y="505.1" width="3" height="23.4" fill="#3adf27"/><rect x="1096.74" y="505.1" width="3" height="10.0" fill="#ff008c"/><rect x="1101.60" y="511.5" width="3" height="4.1" fill="#3adf27"/></g>
</g>
<path d="M1160.3 341.2H1365a5 5 0 0 1 5 5V392.3a5 5 0 0 1-5 5H1162L1145.8 434.8L1155.3 391V346.2a5 5 0 0 1 5-5Z" fill="#3a94f3"/>
<text font-size="20" fill="#fff" stroke="#fff" stroke-width="0.3"><tspan x="1163.7" y="364.5" textLength="131.3" lengthAdjust="spacingAndGlyphs">Double Bottom</tspan> <tspan x="1163.7" y="384.7" textLength="197.8" lengthAdjust="spacingAndGlyphs">"neckline" near 105.60</tspan></text>
<text y="36.1" font-size="22" fill="#0c0c0c" stroke="#0c0c0c" stroke-width="0.4"><tspan x="20.5" textLength="40.6" lengthAdjust="spacingAndGlyphs">CAD</tspan><tspan x="64.4" y="37.2" font-size="24.4">/</tspan><tspan x="74.8" y="36.1" textLength="41.2" lengthAdjust="spacingAndGlyphs">JPY:</tspan> <tspan x="125.2" textLength="50.2" lengthAdjust="spacingAndGlyphs">Daily</tspan></text>
<text x="1542.6" y="691.1" font-size="11.3" fill="#222">97.000</text>
<text x="1542.6" y="662.1" font-size="11.3" fill="#222">98.000</text>
<text x="1542.6" y="633.1" font-size="11.3" fill="#222">99.000</text>
<text x="1542.6" y="604.1" font-size="11.3" fill="#222">100.000</text>
<text x="1542.6" y="575.1" font-size="11.3" fill="#222">101.000</text>
<text x="1542.6" y="546.1" font-size="11.3" fill="#222">102.000</text>
<text x="1542.6" y="517.1" font-size="11.3" fill="#222">103.000</text>
<text x="1542.6" y="488.1" font-size="11.3" fill="#222">104.000</text>
<text x="1542.6" y="459.1" font-size="11.3" fill="#222">105.000</text>
<text x="1542.6" y="430.1" font-size="11.3" fill="#222">106.000</text>
<text x="1542.6" y="401.1" font-size="11.3" fill="#222">107.000</text>
<text x="1542.6" y="372.1" font-size="11.3" fill="#222">108.000</text>
<text x="1542.6" y="343.1" font-size="11.3" fill="#222">109.000</text>
<text x="1542.6" y="314.1" font-size="11.3" fill="#222">110.000</text>
<text x="1542.6" y="285.1" font-size="11.3" fill="#222">111.000</text>
<text x="1542.6" y="256.1" font-size="11.3" fill="#222">112.000</text>
<text x="1542.6" y="227.1" font-size="11.3" fill="#222">113.000</text>
<text x="1542.6" y="198.1" font-size="11.3" fill="#222">114.000</text>
<text x="1542.6" y="169.1" font-size="11.3" fill="#222">115.000</text>
<text x="1542.6" y="140.1" font-size="11.3" fill="#222">116.000</text>
<text x="1542.6" y="111.1" font-size="11.3" fill="#222">117.000</text>
<text x="1542.6" y="82.1" font-size="11.3" fill="#222">118.000</text>
<text x="1542.6" y="53.1" font-size="11.3" fill="#222">119.000</text>
<text x="1542.6" y="24.1" font-size="11.3" fill="#222">120.000</text>
<path d="M1489 503H1534.2V520.6H1489a2 2 0 0 1-2-2V505a2 2 0 0 1 2-2Z" fill="#33bd23"/><path d="M1535.3 503H1585.4a2 2 0 0 1 2 2V518.6a2 2 0 0 1-2 2H1535.3Z" fill="#33bd23"/>
<text x="1490.9" y="515.9" font-size="10.8" fill="#fff" stroke="#fff" stroke-width="0.3" textLength="38.7" lengthAdjust="spacingAndGlyphs">CADJPY</text><text x="1543" y="515.9" font-size="11.3" fill="#fff" stroke="#fff" stroke-width="0.25">103.063</text>
<text x="73.5" y="720" font-size="11.3" fill="#222" text-anchor="middle">Jul</text>
<text x="185" y="720" font-size="11.3" fill="#222" text-anchor="middle">Aug</text>
<text x="292" y="720" font-size="11.3" fill="#222" text-anchor="middle">Sep</text>
<text x="393.5" y="720" font-size="11.3" fill="#222" text-anchor="middle">Oct</text>
<text x="505.5" y="720" font-size="11.3" fill="#222" text-anchor="middle">Nov</text>
<text x="607" y="720" font-size="11.3" fill="#222" text-anchor="middle">Dec</text>
<text x="709.5" y="720" font-size="11.3" fill="#222" text-anchor="middle" font-weight="bold">2025</text>
<text x="816" y="720" font-size="11.3" fill="#222" text-anchor="middle">Feb</text>
<text x="913" y="720" font-size="11.3" fill="#222" text-anchor="middle">Mar</text>
<text x="1015" y="720" font-size="11.3" fill="#222" text-anchor="middle">Apr</text>
<text x="1121.5" y="720" font-size="11.3" fill="#222" text-anchor="middle">May</text>
<text x="1228.5" y="720" font-size="11.3" fill="#222" text-anchor="middle">Jun</text>
<text x="1330" y="720" font-size="11.3" fill="#222" text-anchor="middle">Jul</text>
<text x="1442" y="720" font-size="11.3" fill="#222" text-anchor="middle">Aug</text>
<g fill="#151515"><path d="M8 740.1H15.1V747.6H11V743H8Z"/><circle cx="18" cy="741.5" r="1.35"/><path d="M20.3 740.1H24.5L21.5 747.6H17.4Z"/></g>
<text x="28" y="747.6" font-size="10.2" fill="#20232b" stroke="#20232b" stroke-width="0.25" textLength="57" lengthAdjust="spacingAndGlyphs">TradingView</text>
</svg></body></html>
